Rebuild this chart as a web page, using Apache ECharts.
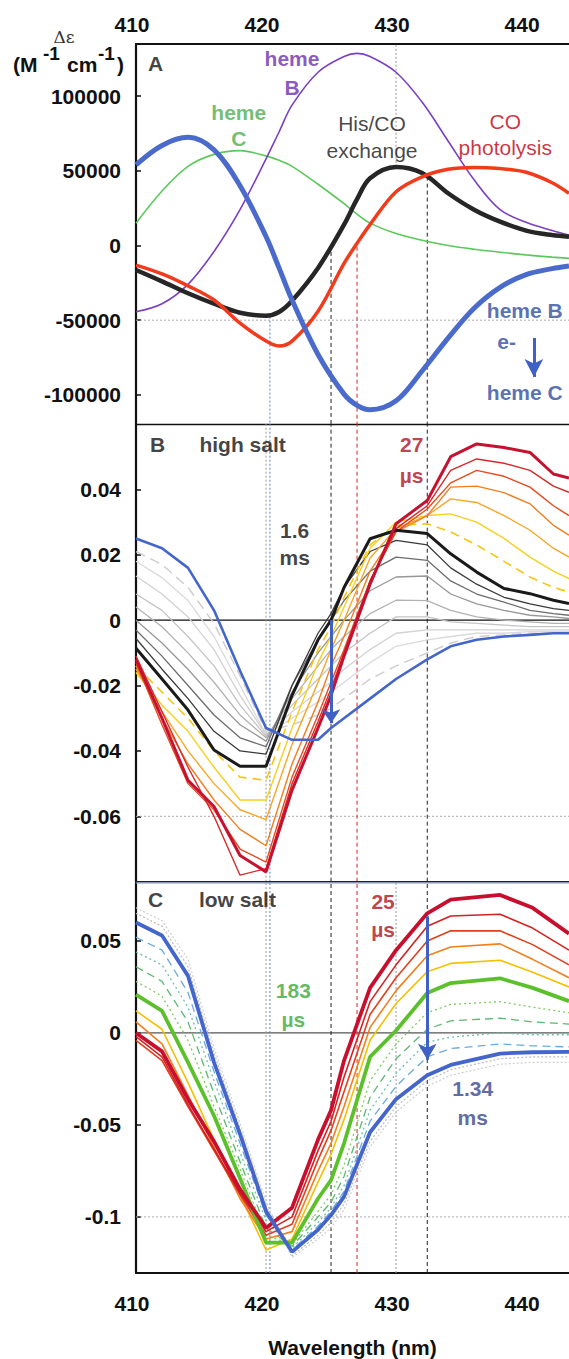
<!DOCTYPE html>
<html><head><meta charset="utf-8">
<script src="https://cdn.jsdelivr.net/npm/echarts@6/dist/echarts.min.js"></script>
<style>html,body{margin:0;padding:0;background:#fff}#c{width:569px;height:1359px}</style>
</head><body><div id="c"></div>
<script>
// ---------- Panel A: difference spectra (Δε, M-1 cm-1) ----------
const X_A = [410,412,414,416,418,420,421,422,424,426,427,428,430,432,434,436,438,440,442,443.3];
const A_hemeB   = [-44300,-39000,-26000,-4000,24000,58000,76000,94000,116000,126500,128600,126500,116000,96000,70000,44000,24000,15500,10000,7000];
const A_hemeC   = [14900,36500,53000,61000,63500,60000,57000,53000,41000,28000,21000,15000,8000,3500,0,-2500,-4500,-6300,-7800,-8600];
const A_hisCO   = [-16400,-24000,-32000,-39000,-45000,-47000,-44500,-37000,-15000,14000,31000,45000,52500,48500,35000,24000,16000,10000,7000,5900];
const A_COphot  = [-13100,-19000,-27000,-36500,-52000,-64000,-67300,-64000,-44000,-12000,1500,14000,36000,46000,51000,52300,51500,49000,42000,34900];
const A_BtoC    = [54000,67000,72400,64000,40000,6000,-15000,-36500,-73000,-99500,-107000,-110000,-104000,-84000,-62000,-42000,-28000,-19500,-15500,-13700];
const A_TICKS = [-100000,-50000,0,50000,100000];

// ---------- Panel B: high salt ----------
const X_B = [410,412,414,416,418,420,422,424,425,426,428,430,432.4,434.2,436.2,438.3,440.3,442.1,443.3];
const B_27us  = [-0.012,-0.030,-0.049,-0.057,-0.072,-0.077,-0.052,-0.033,-0.023,-0.011,0.011,0.0295,0.0366,0.050,0.0539,0.0528,0.0513,0.0447,0.0435];
const B_r2    = [-0.011,-0.028,-0.045,-0.060,-0.078,-0.076,-0.050,-0.031,-0.021,-0.010,0.012,0.028,0.035,0.0458,0.0493,0.048,0.0458,0.041,0.0391];
const B_r3    = [-0.013,-0.032,-0.050,-0.058,-0.070,-0.074,-0.048,-0.029,-0.019,-0.009,0.012,0.027,0.034,0.042,0.0458,0.044,0.0407,0.035,0.032];
const B_o1    = [-0.014,-0.030,-0.044,-0.055,-0.064,-0.069,-0.044,-0.025,-0.014,-0.005,0.015,0.027,0.032,0.0407,0.041,0.039,0.0356,0.029,0.026];
const B_o2    = [-0.015,-0.028,-0.040,-0.050,-0.058,-0.061,-0.038,-0.019,-0.009,0.000,0.019,0.028,0.032,0.0371,0.036,0.032,0.0275,0.022,0.0193];
const B_y1    = [-0.016,-0.026,-0.034,-0.045,-0.055,-0.055,-0.033,-0.013,-0.005,0.004,0.022,0.030,0.032,0.0325,0.030,0.025,0.0193,0.015,0.0127];
const B_y2    = [-0.014,-0.022,-0.030,-0.040,-0.048,-0.049,-0.028,-0.009,-0.002,0.007,0.023,0.029,0.0295,0.027,0.023,0.018,0.0132,0.010,0.0086];
const B_1p6ms = [-0.0086,-0.018,-0.0275,-0.0397,-0.0447,-0.0447,-0.023,-0.006,0.000,0.010,0.0249,0.0275,0.0265,0.0203,0.0147,0.0097,0.0081,0.0061,0.0051];
const B_g1    = [-0.0056,-0.015,-0.024,-0.034,-0.040,-0.041,-0.020,-0.004,0.002,0.010,0.021,0.0244,0.023,0.016,0.011,0.007,0.005,0.0035,0.003];
const B_g2    = [-0.003,-0.011,-0.020,-0.029,-0.036,-0.0387,-0.020,-0.006,0.000,0.006,0.015,0.0193,0.0183,0.012,0.008,0.0055,0.003,0.002,0.0015];
const B_g3    = [0.000,-0.007,-0.015,-0.024,-0.032,-0.037,-0.022,-0.010,-0.005,0.000,0.009,0.0132,0.0135,0.008,0.005,0.003,0.0015,0.001,0.0005];
const B_g4    = [0.004,-0.002,-0.010,-0.019,-0.029,-0.036,-0.024,-0.014,-0.009,-0.005,0.002,0.0061,0.006,0.003,0.001,0.000,-0.0005,-0.001,-0.001];
const B_g5    = [0.008,0.003,-0.005,-0.014,-0.026,-0.0355,-0.026,-0.018,-0.014,-0.010,-0.004,0.001,0.001,-0.0005,-0.001,-0.0015,-0.002,-0.002,-0.002];
const B_g6    = [0.0135,0.008,0.001,-0.009,-0.023,-0.035,-0.028,-0.022,-0.019,-0.015,-0.009,-0.004,-0.003,-0.003,-0.003,-0.003,-0.003,-0.003,-0.003];
const B_g7    = [0.018,0.013,0.006,-0.005,-0.020,-0.035,-0.030,-0.025,-0.022,-0.019,-0.013,-0.008,-0.006,-0.005,-0.004,-0.004,-0.0035,-0.0035,-0.0035];
const B_g8    = [0.021,0.017,0.010,-0.001,-0.017,-0.034,-0.032,-0.029,-0.027,-0.024,-0.018,-0.014,-0.010,-0.007,-0.005,-0.0045,-0.004,-0.004,-0.004];
const B_final = [0.025,0.022,0.016,0.003,-0.0155,-0.033,-0.0366,-0.0366,-0.033,-0.030,-0.024,-0.018,-0.012,-0.008,-0.006,-0.005,-0.0045,-0.004,-0.004];
const B_TICKS = [-0.06,-0.04,-0.02,0,0.02,0.04];

// ---------- Panel C: low salt ----------
const X_C = [410,412,414,416,418,420,422,424,425,426,428,430,432.4,434.2,438,440.5,443.3];
const C_25us  = [0.000,-0.010,-0.036,-0.059,-0.085,-0.106,-0.095,-0.058,-0.042,-0.015,0.0245,0.045,0.065,0.0725,0.075,0.068,0.054];
const C_r2    = [-0.002,-0.013,-0.039,-0.063,-0.087,-0.108,-0.100,-0.064,-0.048,-0.024,0.017,0.037,0.058,0.0636,0.0645,0.057,0.045];
const C_r3    = [-0.004,-0.015,-0.040,-0.064,-0.088,-0.110,-0.104,-0.069,-0.053,-0.032,0.010,0.030,0.050,0.0555,0.0555,0.048,0.037];
const C_o     = [0.006,-0.006,-0.034,-0.062,-0.090,-0.112,-0.108,-0.075,-0.060,-0.040,0.003,0.023,0.042,0.0467,0.0484,0.040,0.030];
const C_y     = [0.012,0.002,-0.027,-0.058,-0.088,-0.118,-0.112,-0.081,-0.066,-0.047,-0.004,0.016,0.0333,0.0378,0.0395,0.033,0.025];
const C_183us = [0.0208,0.012,-0.016,-0.045,-0.079,-0.114,-0.114,-0.090,-0.080,-0.060,-0.013,0.0013,0.0217,0.0271,0.0297,0.0245,0.0173];
const C_gd1   = [0.028,0.020,-0.004,-0.040,-0.074,-0.110,-0.115,-0.097,-0.088,-0.072,-0.026,-0.006,0.011,0.0155,0.017,0.014,0.011];
const C_gd2   = [0.036,0.028,0.006,-0.033,-0.070,-0.106,-0.116,-0.100,-0.092,-0.078,-0.035,-0.014,0.002,0.0066,0.008,0.006,0.0048];
const C_td    = [0.044,0.037,0.014,-0.026,-0.065,-0.102,-0.117,-0.103,-0.095,-0.083,-0.042,-0.022,-0.005,-0.0023,0.000,-0.001,-0.001];
const C_lb    = [0.052,0.045,0.022,-0.021,-0.060,-0.099,-0.118,-0.105,-0.097,-0.086,-0.048,-0.029,-0.013,-0.0085,-0.006,-0.007,-0.0076];
const C_1p34ms= [0.060,0.053,0.031,-0.016,-0.055,-0.097,-0.119,-0.107,-0.099,-0.089,-0.054,-0.036,-0.023,-0.0174,-0.0112,-0.0105,-0.0103];
const C_gr1   = [0.065,0.058,0.036,-0.011,-0.052,-0.094,-0.121,-0.110,-0.103,-0.093,-0.059,-0.040,-0.026,-0.020,-0.014,-0.013,-0.013];
const C_gr2   = [0.068,0.061,0.040,-0.008,-0.049,-0.092,-0.122,-0.112,-0.106,-0.096,-0.062,-0.043,-0.029,-0.023,-0.017,-0.016,-0.016];
const C_TICKS = [-0.1,-0.05,0,0.05];

const X_TICKS = [410,420,430,440];
// reference wavelengths (nm)
const REF_WL = [420, 420.3, 425, 427, 430, 432.4];
// where the guide lines start in panel A (curve values they drop from)
const REF_A_START = [null, -47600, -4300, -800, 52700, 46100];

const FONT = '"Liberation Sans", Arial, sans-serif';
const XMIN = 410, XMAX = 443.3;
const YR = [[-119500, 134900], [-0.08, 0.06], [-0.1305, 0.0815]];

function pts(xs, ys){ return xs.map((x,i)=>[x, ys[i]]); }
function ln(g, xs, ys, color, width, type, smooth, z){
  return {type:'line', xAxisIndex:g, yAxisIndex:g, data:pts(xs,ys), showSymbol:false, symbol:'none',
    smooth: smooth ? 0.35 : false, lineStyle:{color:color, width:width, type:type||'solid'},
    z: z||3, silent:true, animation:false, emphasis:{disabled:true}};
}
function seg(g, x1, y1, x2, y2, color, width, type, border){
  return {type:'line', xAxisIndex:g, yAxisIndex:g, data:[[x1,y1],[x2,y2]], showSymbol:false, symbol:'none',
    clip: !border, lineStyle:{color:color, width:width, type:type}, z: border ? 30 : 1,
    silent:true, animation:false, emphasis:{disabled:true}};
}
function note(g, x, y, text, color, size, weight, lh){
  return {type:'scatter', xAxisIndex:g, yAxisIndex:g, symbolSize:1, itemStyle:{color:'rgba(0,0,0,0)'},
    silent:true, animation:false, z:20, emphasis:{disabled:true},
    data:[{value:[x,y]}],
    label:{show:true, position:'inside', formatter:text, color:color, fontSize:size, fontWeight:weight||'bold',
      fontFamily:FONT, lineHeight:lh||27, align:'center', verticalAlign:'middle'}};
}
function arrow(g, x, y1, y2, color, size){
  return {type:'line', xAxisIndex:g, yAxisIndex:g, data:[], silent:true, animation:false, z:15,
    markLine:{silent:true, animation:false, symbol:['none','arrow'], symbolSize:size, label:{show:false},
      lineStyle:{color:color, width:3, type:'solid'}, emphasis:{disabled:true},
      data:[[{coord:[x,y1]},{coord:[x,y2]}]]}};
}

const series = [];
// gridlines
series.push(seg(0, XMIN, -50000, XMAX, -50000, '#aaaaaa', 1, [2,2]));
series.push(seg(1, XMIN, -0.06, XMAX, -0.06, '#aaaaaa', 1, [2,2]));
series.push(seg(1, XMIN, 0, XMAX, 0, '#111111', 1.2, 'solid'));
series.push(seg(2, XMIN, -0.1, XMAX, -0.1, '#aaaaaa', 1, [2,2]));
series.push(seg(2, XMIN, 0, XMAX, 0, '#555555', 1.3, 'solid'));
// panel frame lines (B bottom, C top)
series.push(seg(1, XMIN, YR[1][0], XMAX, YR[1][0], '#222222', 1.4, 'solid', true));
series.push(seg(2, XMIN, YR[2][1], XMAX, YR[2][1], '#7d95d6', 1.2, 'solid', true));

// reference vertical lines
const refStyle = [['#999999',[2,2]], ['#5b7fe0',[2,2]], ['#222222',[4,3]], ['#e02020',[4,3]], ['#999999',[2,2]], ['#222222',[4,3]]];
REF_WL.forEach((w,i)=>{
  const [c,t] = refStyle[i];
  const s = REF_A_START[i];
  if (s !== null) {
    if (w === 430) series.push(seg(0, w, s, w, YR[0][1], c, 1, t));
    else series.push(seg(0, w, s, w, YR[0][0], c, 1, t));
  }
  if (w !== 430) series.push(seg(1, w, YR[1][0], w, YR[1][1], c, 1, t));
  series.push(seg(2, w, YR[2][0], w, YR[2][1], c, 1, t));
});

// Panel A curves
series.push(ln(0, X_A, A_hemeC, '#5cc85c', 1.6, 'solid', true, 3));
series.push(ln(0, X_A, A_hemeB, '#7b3fc4', 1.6, 'solid', true, 3));
series.push(ln(0, X_A, A_hisCO, '#262626', 4.5, 'solid', true, 4));
series.push(ln(0, X_A, A_COphot, '#f23a1c', 3.5, 'solid', true, 5));
series.push(ln(0, X_A, A_BtoC, '#4a6bcc', 5, 'solid', true, 6));

// Panel B curves
[[B_g8,'#cccccc',1.4,[10,6]],[B_g7,'#dadada',1.3],[B_g6,'#d2d2d2',1.3],[B_g5,'#c4c4c4',1.3],[B_g4,'#b2b2b2',1.3],
 [B_g3,'#979797',1.3],[B_g2,'#6c6c6c',1.3],[B_g1,'#3a3a3a',1.3],
 [B_y2,'#f6c614',1.6,[9,6]],[B_y1,'#f7d01c',1.4],[B_o2,'#f8a626',1.4],[B_o1,'#f27e20',1.4],[B_r3,'#e64a1f',1.4],[B_r2,'#d42a2a',1.4],
 [B_1p6ms,'#1a1a1a',3],[B_27us,'#c41230',3],[B_final,'#4466cc',2.6]
].forEach((d,i)=>series.push(ln(1, X_B, d[0], d[1], d[2], d[3]||'solid', false, 3+i*0.01)));

// Panel C curves
[[C_gr2,'#cfcfcf',1.2,[2,2]],[C_gr1,'#bbbbbb',1.2,[2,2]],[C_lb,'#6aaae0',1.3,[8,5]],[C_td,'#6cc0a8',1.3,[2,3]],
 [C_gd2,'#5cb870',1.3,[8,5]],[C_gd1,'#7ccc5c',1.3,[2,3]],
 [C_y,'#f5c000',1.6],[C_o,'#f07f1e',1.6],[C_r3,'#e0401e',1.6],[C_r2,'#d42222',1.6],
 [C_183us,'#5cc02c',3.8],[C_25us,'#c8102e',3.8],[C_1p34ms,'#4466cc',3.8]
].forEach((d,i)=>series.push(ln(2, X_C, d[0], d[1], d[2], d[3]||'solid', false, 3+i*0.01)));

// annotations
series.push(note(0, 411.5, 121900, 'A', '#111', 21, 'bold'));
series.push(note(0, 422.0, 115800, 'heme\nB', '#6a2fae', 21, 'bold', 29));
series.push(note(0, 417.9, 80600, 'heme\nC', '#4cae4c', 21, 'bold', 26));
series.push(note(0, 428.15, 72900, 'His/CO\nexchange', '#151515', 21, 'normal', 27));
series.push(note(0, 438.4, 74000, 'CO\nphotolysis', '#c00010', 21, 'normal', 26));
series.push(note(0, 439.9, -43200, 'heme B', '#2f4c9e', 21, 'bold'));
series.push(note(0, 438.5, -64600, 'e-', '#2f4c9e', 21, 'bold'));
series.push(note(0, 439.9, -98700, 'heme C', '#2f4c9e', 21, 'bold'));
series.push(arrow(0, 440.6, -61900, -88000, '#3f60c4', [14,18]));

series.push(note(1, 411.65, 0.0537, 'B', '#111', 21, 'bold'));
series.push(note(1, 418.2, 0.0537, 'high salt', '#111', 21, 'bold'));
series.push(note(1, 431.2, 0.0491, '27\nµs', '#b01020', 21, 'bold', 31));
series.push(note(1, 422.2, 0.0233, '1.6\nms', '#111', 21, 'bold', 27));
series.push(arrow(1, 425, 0.0, -0.0315, '#3f60c4', [14,14]));

series.push(note(2, 411.5, 0.0724, 'C', '#111', 21, 'bold'));
series.push(note(2, 417.8, 0.0724, 'low salt', '#111', 21, 'bold'));
series.push(note(2, 429.0, 0.0639, '25\nµs', '#b01020', 21, 'bold', 28));
series.push(note(2, 422.1, 0.0151, '183\nµs', '#3aa83a', 21, 'bold', 29));
series.push(note(2, 435.9, -0.0383, '1.34\nms', '#35458c', 21, 'bold', 29));
series.push(arrow(2, 432.4, 0.0634, -0.0146, '#3f60c4', [14,16]));

function yLabel(v){ return Math.abs(v) < 1 ? String(Math.round(v*100)/100) : String(v); }

const grids = [
  {left:136, right:0, top:44, height:380, show:false},
  {left:136, right:0, top:424, height:457.7, show:false},
  {left:136, right:0, top:883, height:397, show:false}
];
const xAxes = [0,1,2].map(g=>({
  gridIndex:g, type:'value', min:XMIN, max:XMAX, position: g===2 ? 'bottom' : 'top',
  axisLine:{show:true, onZero:false, lineStyle:{color:'#111', width: g===1 ? 1.4 : 2}},
  axisTick:{show:false}, splitLine:{show:false},
  axisLabel:{show: g!==1, customValues:X_TICKS, fontSize:21, fontWeight:'bold', color:'#111', fontFamily:FONT,
    margin: g===0 ? 9 : 20, padding:[0,8,0,0]},
  name: g===2 ? 'Wavelength (nm)' : '', nameLocation:'middle', nameGap:64,
  nameTextStyle:{fontSize:21, fontWeight:'bold', color:'#111', fontFamily:FONT}
}));
const yAxes = [0,1,2].map(g=>{
  const ticks = [A_TICKS, B_TICKS, C_TICKS][g];
  return {gridIndex:g, type:'value', min:YR[g][0], max:YR[g][1],
    axisLine:{show:true, onZero:false, lineStyle:{color:'#111', width:2.2}},
    axisTick:{show:true, inside:true, length:5, customValues:ticks, lineStyle:{color:'#111', width:1.5}},
    splitLine:{show:false},
    axisLabel:{customValues:ticks, formatter:yLabel, fontSize:21, fontWeight:'bold', color:'#111', fontFamily:FONT, margin:15}};
});

const chart = echarts.init(document.getElementById('c'), null, {renderer:'svg', width:569, height:1359});
chart.setOption({
  animation:false, backgroundColor:'#ffffff',
  grid:grids, xAxis:xAxes, yAxis:yAxes, series:series,
  graphic:[
    {type:'text', x:64, y:37, style:{text:'Δε', font:'17px "DejaVu Serif", serif', fill:'#333', align:'center', verticalAlign:'middle'}},
    {type:'text', x:13, y:64, style:{text:'(M', font:'bold 21px "Liberation Sans", Arial', fill:'#111', align:'left', verticalAlign:'middle'}},
    {type:'text', x:43, y:53, style:{text:'-1', font:'bold 19px "Liberation Sans", Arial', fill:'#111', align:'left', verticalAlign:'middle'}},
    {type:'text', x:67, y:64, style:{text:'cm', font:'bold 21px "Liberation Sans", Arial', fill:'#111', align:'left', verticalAlign:'middle'}},
    {type:'text', x:98, y:53, style:{text:'-1', font:'bold 19px "Liberation Sans", Arial', fill:'#111', align:'left', verticalAlign:'middle'}},
    {type:'text', x:117, y:64, style:{text:')', font:'bold 21px "Liberation Sans", Arial', fill:'#111', align:'left', verticalAlign:'middle'}}
  ]
});
</script></body></html>
